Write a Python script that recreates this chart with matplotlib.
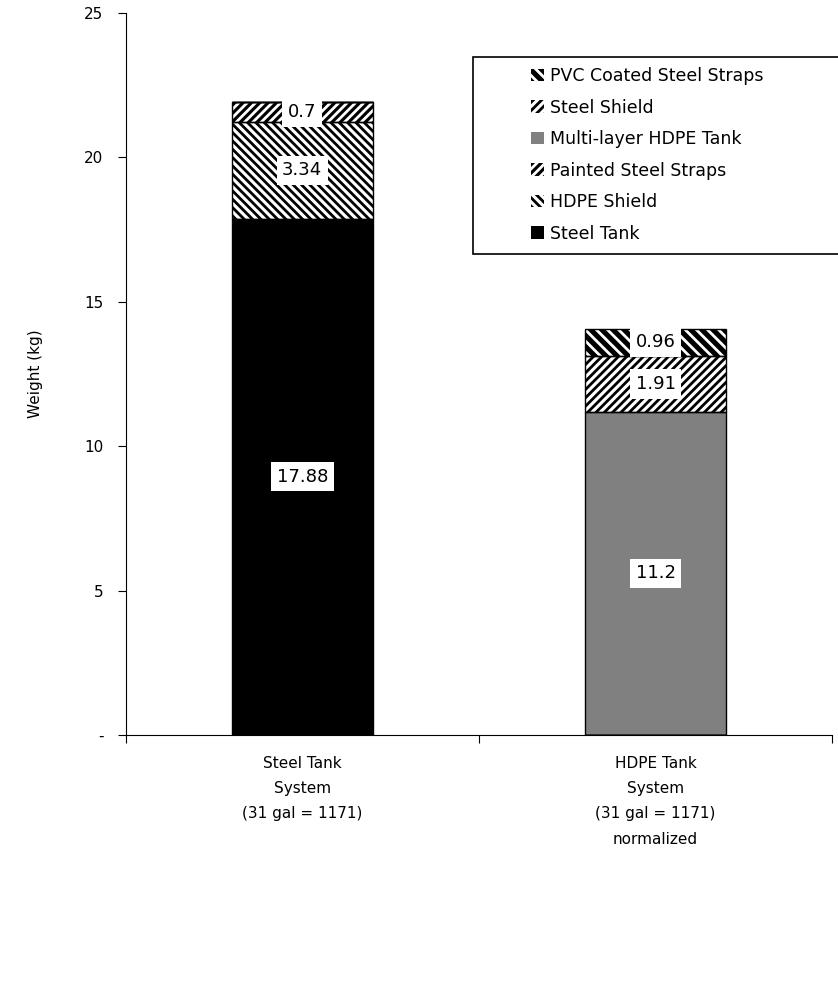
import matplotlib.pyplot as plt
from matplotlib.patches import Rectangle
import numpy as np

# Data
systems = ['Steel Tank\nSystem\n(31 gal = 1171)',
           'HDPE Tank\nSystem\n(31 gal = 1171)\nnormalized']
components = ['Steel Tank', 'HDPE Shield', 'Painted Steel Straps',
              'Multi-layer HDPE Tank', 'Steel Shield', 'PVC Coated Steel Straps']
steel_system = [17.88, 3.34, 0.7, 0, 0, 0]
hdpe_system = [0, 0, 0, 11.2, 1.91, 0.96]

# fill style per component: (face, hatch colour, hatch)
styles = {
    'Steel Tank': ('black', 'black', None),
    'HDPE Shield': ('white', 'black', '\\\\\\\\'),
    'Painted Steel Straps': ('black', 'white', '////'),
    'Multi-layer HDPE Tank': ('#808080', '#808080', None),
    'Steel Shield': ('white', 'black', '////'),
    'PVC Coated Steel Straps': ('black', 'white', '\\\\\\'),
}

plt.rcParams['hatch.linewidth'] = 2.0
plt.rcParams['font.family'] = 'DejaVu Sans'

fig = plt.figure(figsize=(8.38, 9.92), dpi=100)
ax = fig.add_axes([0.150, 0.259, 0.843, 0.728])

x = np.array([0.5, 1.5])
width = 0.40
values = np.array([steel_system, hdpe_system])
bottoms = np.zeros(2)
handles = {}
for j, comp in enumerate(components):
    face, hcol, hatch = styles[comp]
    vals = values[:, j]
    b = ax.bar(x, vals, width, bottom=bottoms, color=face, edgecolor=hcol,
               hatch=hatch, linewidth=0, zorder=2)
    ax.bar(x, vals, width, bottom=bottoms, fill=False, edgecolor='black',
           linewidth=1, zorder=3)
    handles[comp] = b
    for i in range(2):
        if vals[i] > 0:
            lab = f'{vals[i]:g}'
            ax.text(x[i], bottoms[i] + vals[i] / 2, lab, ha='center', va='center',
                    fontsize=13, zorder=4,
                    bbox=dict(facecolor='white', edgecolor='none', pad=4))
    bottoms += vals

ax.set_xlim(0, 2)
ax.set_ylim(0, 25)
ax.set_yticks([0, 5, 10, 15, 20, 25])
ax.set_yticklabels(['-', '5', '10', '15', '20', '25'], fontsize=11)
ax.set_xticks([0, 1, 2])
ax.set_xticklabels([])
ax.set_xticks(x, minor=True)
ax.set_xticklabels(systems, minor=True, fontsize=11, linespacing=1.85)
ax.tick_params(axis='x', which='minor', length=0, pad=15)
ax.tick_params(axis='x', which='major', length=6, direction='out')
ax.tick_params(axis='y', length=6, direction='out', pad=10)
ax.spines['top'].set_visible(False)
ax.spines['right'].set_visible(False)
ax.set_ylabel('Weight (kg)', fontsize=11, labelpad=30)

# legend: frame drawn as its own box, entries placed inside it
fig.patches.append(Rectangle((473 / 838, 1 - 254 / 992), 400 / 838, 197 / 992,
                             transform=fig.transFigure, facecolor='white',
                             edgecolor='black', linewidth=1.2, zorder=5))
leg_items = components[::-1]
leg = fig.legend([handles[c] for c in leg_items], leg_items,
                 loc='upper left', bbox_to_anchor=(531 / 838, 1 - 67 / 992),
                 fontsize=12.5, frameon=False,
                 handlelength=0.75, handleheight=0.75, handletextpad=0.35,
                 labelspacing=0.78, borderpad=0, borderaxespad=0)
leg.set_zorder(6)

fig.savefig('out.png', dpi=100)
